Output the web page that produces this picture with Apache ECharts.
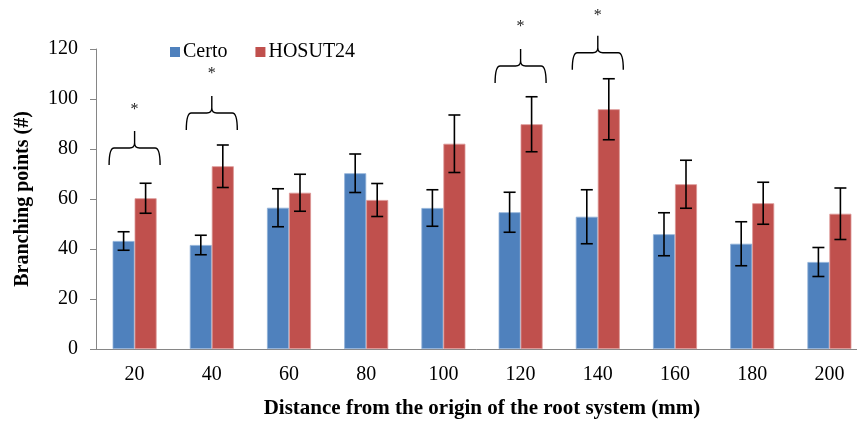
<!DOCTYPE html>
<html>
<head>
<meta charset="utf-8">
<script src="https://cdn.jsdelivr.net/npm/echarts@6/dist/echarts.min.js"></script>
<style>
html,body{margin:0;padding:0;background:#fff;}
#c{width:857px;height:421px;}
</style>
</head>
<body>
<div id="c"></div>
<script>
// ---- data ----
const categories = ['20','40','60','80','100','120','140','160','180','200'];
const certo = [43.2, 41.6, 56.5, 70.3, 56.4, 54.7, 52.9, 45.9, 42.1, 34.8];
const certoErr = [3.7, 3.9, 7.6, 7.7, 7.3, 8.0, 10.8, 8.6, 8.8, 5.8];
const hosut = [60.3, 73.1, 62.5, 59.6, 82.1, 89.9, 95.9, 65.9, 58.3, 54.1];
const hosutErr = [6.0, 8.5, 7.4, 6.6, 11.5, 11.0, 12.2, 9.6, 8.4, 10.3];
const yTicks = [0, 20, 40, 60, 80, 100, 120];
// significance brackets: category index, bracket level (data units), star level
const sigCats = [0, 1, 5, 6];
const sigLevels = [80.4, 94.4, 113.2, 118.5];
const sigStars = [96.4, 110.8, 129.6, 134];

const FONT = "'Liberation Serif', 'Times New Roman', serif";
const BAR_W = 22;

function errRender(offsetSign, errArr) {
  return function (params, api) {
    const i = api.value(0);
    const v = api.value(1);
    const e = errArr[params.dataIndex];
    const top = api.coord([i, v + e]);
    const bot = api.coord([i, v - e]);
    const x = top[0] + offsetSign * BAR_W / 2;
    const cap = 6;
    const st = { stroke: '#000', lineWidth: 1.6 };
    return {
      type: 'group',
      children: [
        { type: 'line', shape: { x1: x, y1: top[1], x2: x, y2: bot[1] }, style: st },
        { type: 'line', shape: { x1: x - cap, y1: top[1], x2: x + cap, y2: top[1] }, style: st },
        { type: 'line', shape: { x1: x - cap, y1: bot[1], x2: x + cap, y2: bot[1] }, style: st }
      ]
    };
  };
}

function braceRender(params, api) {
  const idx = params.dataIndex;
  const c = api.coord([sigCats[idx], sigLevels[idx]]);
  const s = api.coord([sigCats[idx], sigStars[idx]]);
  const cx = c[0], y = c[1];
  const w = 25.5, d = 17, r = 5;
  const path =
    'M' + (cx - w) + ',' + (y + d) + ' Q' + (cx - w) + ',' + y + ' ' + (cx - w + r) + ',' + y +
    ' L' + (cx - r) + ',' + y + ' Q' + cx + ',' + y + ' ' + cx + ',' + (y - r) +
    ' L' + cx + ',' + (y - d) +
    ' M' + cx + ',' + (y - r) + ' Q' + cx + ',' + y + ' ' + (cx + r) + ',' + y +
    ' L' + (cx + w - r) + ',' + y + ' Q' + (cx + w) + ',' + y + ' ' + (cx + w) + ',' + (y + d);
  return {
    type: 'group',
    children: [
      { type: 'path', shape: { pathData: path }, style: { stroke: '#000', lineWidth: 1.4, fill: null } },
      { type: 'text', x: cx, y: s[1] + 2, style: { text: '*', font: '16px ' + FONT, fill: '#222', align: 'center', verticalAlign: 'middle' } }
    ]
  };
}

const chart = echarts.init(document.getElementById('c'));
chart.setOption({
  animation: false,
  backgroundColor: '#fff',
  textStyle: { fontFamily: FONT },
  legend: {
    left: 165, top: 37,
    itemWidth: 10, itemHeight: 10, itemGap: 28,
    icon: 'rect',
    itemStyle: { borderWidth: 0 },
    textStyle: { fontFamily: FONT, fontSize: 20, color: '#000', padding: [0, 0, 0, -2] },
    data: ['Certo', 'HOSUT24']
  },
  grid: { left: 96, width: 772, top: 49, height: 300, containLabel: false, outerBoundsMode: 'none' },
  xAxis: {
    type: 'category',
    data: categories,
    name: 'Distance from the origin of the root system (mm)',
    nameLocation: 'middle', nameGap: 49,
    nameTextStyle: { fontFamily: FONT, fontSize: 21, fontWeight: 'bold', color: '#000' },
    axisLine: { lineStyle: { color: '#868686', width: 1 } },
    axisTick: { length: 6, lineStyle: { color: '#868686' } },
    axisLabel: { fontFamily: FONT, fontSize: 20, color: '#000', margin: 16 }
  },
  yAxis: {
    type: 'value', min: yTicks[0], max: yTicks[yTicks.length - 1], interval: 20,
    name: 'Branching points (#)',
    nameLocation: 'middle', nameGap: 63, nameRotate: 90,
    nameTextStyle: { fontFamily: FONT, fontSize: 20, fontWeight: 'bold', color: '#000' },
    axisLine: { show: true, lineStyle: { color: '#868686', width: 1 } },
    axisTick: { show: true, length: 6, lineStyle: { color: '#868686' } },
    splitLine: { show: false },
    axisLabel: { fontFamily: FONT, fontSize: 20, color: '#000', margin: 18 }
  },
  series: [
    {
      name: 'Certo', type: 'bar', data: certo, barWidth: BAR_W, barGap: '0%',
      itemStyle: { color: '#4F81BD', borderColor: '#8FB0D8', borderWidth: 0.8 }
    },
    {
      name: 'HOSUT24', type: 'bar', data: hosut, barWidth: BAR_W, barGap: '0%',
      itemStyle: { color: '#C0504D', borderColor: '#DC9694', borderWidth: 0.8 }
    },
    {
      type: 'custom', renderItem: errRender(-1, certoErr),
      data: certo.map((v, i) => [i, v]), z: 5, silent: true
    },
    {
      type: 'custom', renderItem: errRender(1, hosutErr),
      data: hosut.map((v, i) => [i, v]), z: 5, silent: true
    },
    {
      type: 'custom', renderItem: braceRender, clip: false,
      data: sigCats.map((c, i) => [c, sigLevels[i]]), z: 6, silent: true
    }
  ]
});
</script>
</body>
</html>
